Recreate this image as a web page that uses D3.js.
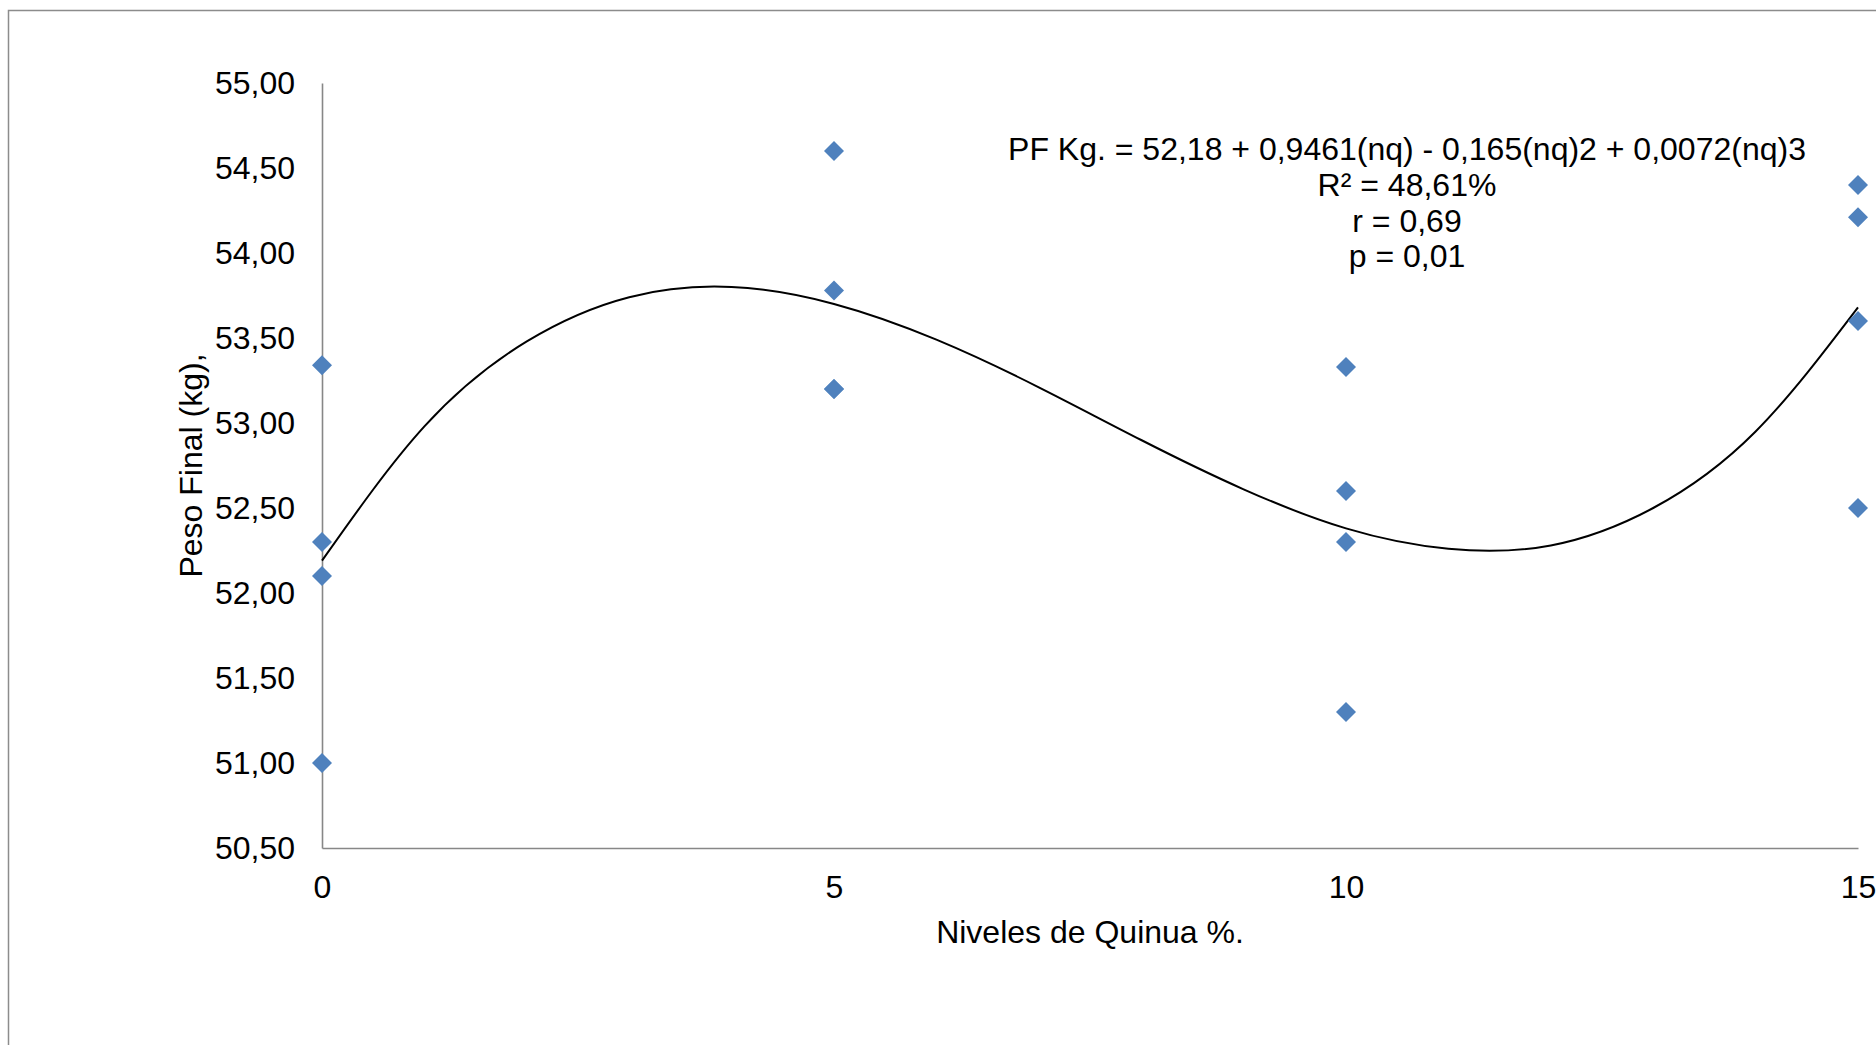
<!DOCTYPE html>
<html>
<head>
<meta charset="utf-8">
<script src="https://cdn.jsdelivr.net/npm/d3@7"></script>
<style>
  html, body { margin: 0; padding: 0; background: #ffffff; overflow: hidden; }
  svg { display: block; }
  text { font-family: "Liberation Sans", Arial, sans-serif; fill: #000; }
</style>
</head>
<body>
<svg id="chart" width="1876" height="1045"></svg>
<script>
// ---- data ----
const xValues = [0, 0, 0, 0, 5, 5, 5, 5, 10, 10, 10, 10, 15, 15, 15, 15];
const yValues = [53.34, 52.30, 52.10, 51.00, 54.60, 53.78, 53.20, 53.20, 53.33, 52.60, 52.30, 51.30, 54.40, 54.21, 53.60, 52.50];

// trend line (cubic)
const trendX = [0, 1, 2, 3, 4, 5, 6, 7, 8, 9, 10, 11, 12, 13, 14, 15];
const trendY = [52.19, 52.98, 53.48, 53.74, 53.80, 53.70, 53.49, 53.21, 52.90, 52.61, 52.38, 52.26, 52.28, 52.50, 52.95, 53.68];

const xTicks = [0, 5, 10, 15];
const xTickLabels = ["0", "5", "10", "15"];
const yTicks = [50.5, 51, 51.5, 52, 52.5, 53, 53.5, 54, 54.5, 55];
const yTickLabels = ["50,50", "51,00", "51,50", "52,00", "52,50", "53,00", "53,50", "54,00", "54,50", "55,00"];

const eqLines = [
  "PF Kg. = 52,18 + 0,9461(nq) - 0,165(nq)2 + 0,0072(nq)3",
  "R² = 48,61%",
  "r = 0,69",
  "p = 0,01"
];
const xTitle = "Niveles de Quinua %.";
const yTitle = "Peso Final (kg),";

// ---- drawing ----
const svg = d3.select("#chart");
const FONT = 32;

// outer chart border (extends beyond the visible area on right/bottom)
svg.append("rect")
  .attr("x", 8.5).attr("y", 10.5)
  .attr("width", 2000).attr("height", 2000)
  .attr("fill", "none").attr("stroke", "#8c8c8c").attr("stroke-width", 1.5);

const x = d3.scaleLinear().domain([0, 15]).range([322, 1858]);
const y = d3.scaleLinear().domain([50.5, 55]).range([848, 83]);

// y axis
const yAxis = d3.axisLeft(y)
  .tickValues(yTicks)
  .tickFormat((d, i) => yTickLabels[i])
  .tickSize(0).tickPadding(27);
const gy = svg.append("g").attr("transform", `translate(${x(0)},0)`).call(yAxis);
gy.select(".domain").attr("stroke", "#878787").attr("stroke-width", 1.6);
gy.selectAll("text").attr("font-size", FONT).attr("font-family", "Liberation Sans, Arial, sans-serif").attr("fill", "#000");

// x axis
const xAxis = d3.axisBottom(x)
  .tickValues(xTicks)
  .tickFormat((d, i) => xTickLabels[i])
  .tickSize(0).tickPadding(27);
const gx = svg.append("g").attr("transform", `translate(0,${y(50.5)})`).call(xAxis);
gx.select(".domain").attr("stroke", "#878787").attr("stroke-width", 1.6);
gx.selectAll("text").attr("font-size", FONT).attr("font-family", "Liberation Sans, Arial, sans-serif").attr("fill", "#000");

// axis titles
svg.append("text")
  .attr("x", (x(0) + x(15)) / 2).attr("y", 943)
  .attr("text-anchor", "middle").attr("font-size", FONT)
  .text(xTitle);

svg.append("text")
  .attr("transform", `translate(202,${(y(50.5) + y(55)) / 2}) rotate(-90)`)
  .attr("text-anchor", "middle").attr("font-size", FONT)
  .text(yTitle);

// trend line
const line = d3.line()
  .x((d, i) => x(trendX[i]))
  .y(d => y(d))
  .curve(d3.curveNatural);
svg.append("path")
  .datum(trendY)
  .attr("d", line)
  .attr("fill", "none").attr("stroke", "#000").attr("stroke-width", 2);

// points (diamonds)
const diamond = d3.symbol().type(d3.symbolSquare).size(200);
svg.append("g").selectAll("path")
  .data(yValues)
  .join("path")
  .attr("d", diamond)
  .attr("transform", (d, i) => `translate(${x(xValues[i])},${y(d)}) rotate(45)`)
  .attr("fill", "#4F81BD");

// equation label
const eqBaselines = [160, 196, 231.5, 267];
svg.append("g").selectAll("text")
  .data(eqLines)
  .join("text")
  .attr("x", 1407)
  .attr("y", (d, i) => eqBaselines[i])
  .attr("text-anchor", "middle")
  .attr("font-size", FONT)
  .text(d => d);
</script>
</body>
</html>
